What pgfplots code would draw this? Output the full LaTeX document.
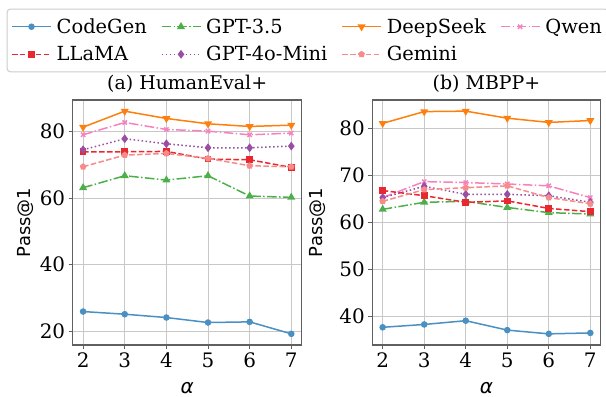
\documentclass[border=0pt]{standalone}
\usepackage{fontspec}
\setmainfont{DejaVuSerif}[Extension=.ttf, BoldFont=DejaVuSerif-Bold, ItalicFont=DejaVuSerif-Italic, BoldItalicFont=DejaVuSerif-BoldItalic]
\setsansfont{DejaVu Sans}
\usepackage{pgfplots}
\pgfplotsset{compat=1.18}
\definecolor{cCodeGen}{HTML}{4A90C2}
\definecolor{cGPTt}{HTML}{4DAF4A}
\definecolor{cDeep}{HTML}{FF7F0E}
\definecolor{cQwen}{HTML}{F781BF}
\definecolor{cLLaMA}{HTML}{E8282E}
\definecolor{cMini}{HTML}{984EA3}
\definecolor{cGem}{HTML}{F78A8A}
\definecolor{axgray}{HTML}{606060}
\definecolor{gridgray}{HTML}{C8C8C8}
\definecolor{leggray}{HTML}{CCCCCC}
\begin{document}
\begin{tikzpicture}
\useasboundingbox (0,0) rectangle (606bp,397bp);
\pgfplotsset{
  common/.style={
    scale only axis,
    anchor=south west,
    height=245bp,
    xmin=1.75, xmax=7.25,
    xtick={2,3,4,5,6,7},
    grid=major,
    major grid style={gridgray, line width=1bp},
    axis line style={axgray, line width=1.2bp},
    tick style={axgray, line width=1bp},
    tick align=outside,
    major tick length=4bp,
    xtick pos=bottom, ytick pos=left,
    /pgf/number format/assume math mode=true,
    tick label style={font=\fontsize{20}{22}\selectfont},
    title style={font=\fontsize{19}{22}\selectfont, at={(axis description cs:0.5,1.0204)}, anchor=base, yshift=0pt},
    xlabel={\sffamily\itshape α},
    xlabel style={font=\fontsize{20}{22}\selectfont, at={(axis description cs:0.5,-0.176)}, anchor=center},
    ylabel={\sffamily Pass@1},
    ylabel style={font=\fontsize{18}{20}\selectfont, anchor=center},
    every axis plot/.append style={line width=1.5bp},
  },
  sCodeGen/.style={cCodeGen, solid, mark=*, mark size=2.5bp, mark options={solid}},
  sGPTt/.style={cGPTt, dash pattern=on 9.6bp off 2.4bp on 1.5bp off 2.4bp, mark=triangle*, mark size=3.2bp, mark options={solid}},
  sDeep/.style={cDeep, solid, mark=triangle*, mark size=3.2bp, mark options={solid, rotate=180}},
  sQwen/.style={cQwen, dash pattern=on 9.6bp off 2.4bp on 1.5bp off 2.4bp, mark=x, mark size=3bp, mark options={solid}},
  sLLaMA/.style={cLLaMA, dash pattern=on 5.55bp off 2.4bp, mark=square*, mark size=2.6bp, mark options={solid}},
  sMini/.style={cMini, dash pattern=on 1.5bp off 2.5bp, mark=diamond*, mark size=3.2bp, mark options={solid}},
  sGem/.style={cGem, dash pattern=on 5.55bp off 2.4bp, mark=pentagon*, mark size=2.6bp, mark options={solid}},
}
\begin{axis}[common,
  at={(72.7bp,52bp)}, width=229bp,
  ymin=15.85, ymax=89.45, ytick={20,40,60,80},
  title={(a) HumanEval+},
  ylabel style={at={(axis description cs:-0.208,0.5)}},
  legend columns=4,
  legend cell align=left,
  legend image code/.code={\draw[mark repeat=2,mark phase=2, line width=1.5bp] plot coordinates {(0bp,0bp) (19.5bp,0bp) (39bp,0bp)};},
  legend style={at={(axis description cs:-0.288,1.373)}, anchor=north west,
    draw=leggray, line width=1bp, rounded corners=3bp,
    font=\fontsize{19.5}{23}\selectfont, row sep=7.5bp, inner xsep=4bp, inner ysep=7.5bp,
    /tikz/every even column/.append style={column sep=12bp},
    /tikz/every odd column/.append style={column sep=3bp}},
]
\addplot[sCodeGen] coordinates {(2,25.9) (3,25.1) (4,24.1) (5,22.6) (6,22.8) (7,19.2)};
\addlegendentry{CodeGen}
\addplot[sGPTt] coordinates {(2,63.1) (3,66.7) (4,65.4) (5,66.7) (6,60.6) (7,60.2)};
\addlegendentry{GPT-3.5}
\addplot[sDeep] coordinates {(2,81.3) (3,86.1) (4,83.9) (5,82.3) (6,81.5) (7,81.9)};
\addlegendentry{DeepSeek}
\addplot[sQwen] coordinates {(2,79.0) (3,82.7) (4,80.6) (5,80.1) (6,79.0) (7,79.5)};
\addlegendentry{Qwen}
\addplot[sLLaMA] coordinates {(2,73.9) (3,73.9) (4,74.0) (5,71.7) (6,71.5) (7,69.2)};
\addlegendentry{LLaMA}
\addplot[sMini] coordinates {(2,74.5) (3,77.8) (4,76.3) (5,75.1) (6,75.1) (7,75.6)};
\addlegendentry{GPT-4o-Mini}
\addplot[sGem] coordinates {(2,69.4) (3,72.9) (4,73.4) (5,71.9) (6,69.7) (7,69.4)};
\addlegendentry{Gemini}
\end{axis}
\begin{axis}[common,
  at={(372.3bp,52bp)}, width=228.4bp,
  ymin=33.93, ymax=86.07, ytick={40,50,60,70,80},
  title={(b) MBPP+},
  ylabel style={at={(axis description cs:-0.238,0.5)}},
]
\addplot[sCodeGen] coordinates {(2,37.7) (3,38.3) (4,39.1) (5,37.1) (6,36.3) (7,36.5)};
\addplot[sGPTt] coordinates {(2,62.8) (3,64.3) (4,64.5) (5,63.2) (6,62.1) (7,61.8)};
\addplot[sDeep] coordinates {(2,81.1) (3,83.6) (4,83.7) (5,82.2) (6,81.3) (7,81.7)};
\addplot[sQwen] coordinates {(2,65.3) (3,68.7) (4,68.5) (5,68.2) (6,67.8) (7,65.3)};
\addplot[sLLaMA] coordinates {(2,66.8) (3,65.7) (4,64.3) (5,64.6) (6,63.0) (7,62.3)};
\addplot[sMini] coordinates {(2,65.3) (3,67.7) (4,66.0) (5,66.0) (6,65.7) (7,64.3)};
\addplot[sGem] coordinates {(2,64.5) (3,67.0) (4,67.4) (5,67.8) (6,65.3) (7,64.0)};
\end{axis}
\end{tikzpicture}
\end{document}
